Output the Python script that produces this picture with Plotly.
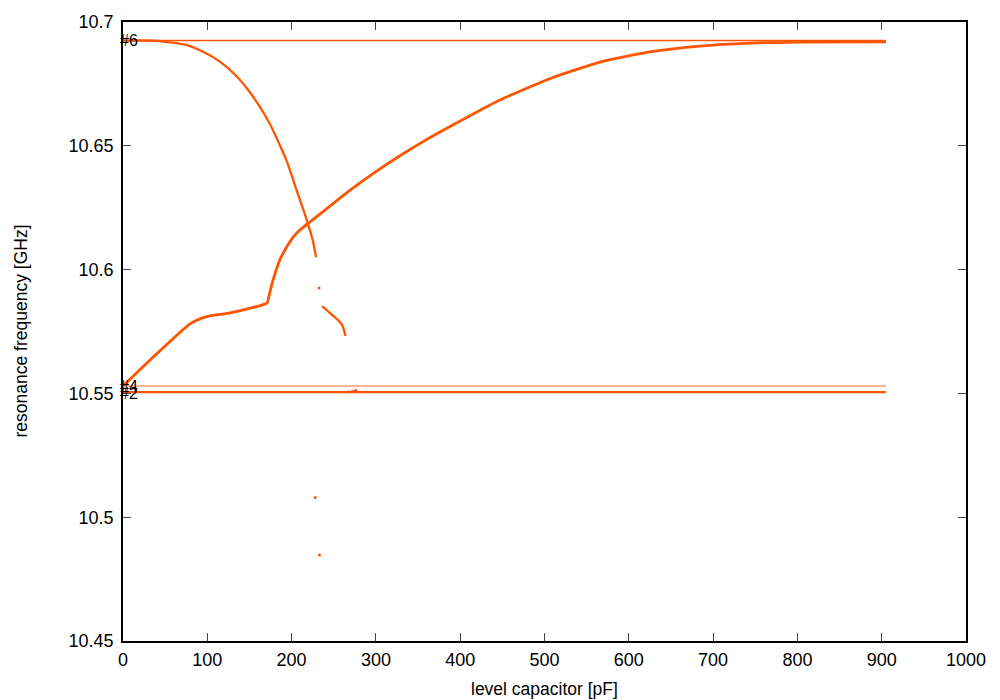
import plotly.graph_objects as go

COLOR = "#FF5500"

# Curve A: mode descending from the top level
a_x = [0, 40, 76, 95, 115, 135, 154, 174, 194, 206, 218, 225, 229]
a_y = [10.6925, 10.6924, 10.6907, 10.688, 10.684, 10.678, 10.670, 10.659, 10.644, 10.632, 10.620, 10.612, 10.605]

# Curve A continuation after the jump
a2_x = [236, 245, 255, 260, 264]
a2_y = [10.5853, 10.5826, 10.5796, 10.5776, 10.5732]

# Curve B: mode ascending from the lower level
b_x = [0, 40, 79, 92, 103, 127, 150, 171, 173, 177, 186, 194, 202, 210, 234, 269, 300, 329, 360, 388, 447, 507,
       566, 625, 684, 744, 803, 905]
b_y = [10.553, 10.566, 10.578, 10.5802, 10.5813, 10.5825, 10.5843, 10.5865, 10.589, 10.5946, 10.6039, 10.609, 10.6132,
       10.616, 10.6225, 10.632, 10.6396, 10.6461, 10.6525, 10.6578, 10.6685, 10.6772, 10.6838, 10.6879, 10.6903,
       10.6915, 10.6919, 10.692]

# Isolated points
p_x = [232.5, 228, 233, 268, 272, 276]
p_y = [10.5926, 10.508, 10.4847, 10.5507, 10.5508, 10.5513]

# Flat modes
flat_x = [0, 905]
flat6_y = 10.6925
flat4_y = 10.553
flat2_y = 10.5505

x_ticks = [0, 100, 200, 300, 400, 500, 600, 700, 800, 900, 1000]
y_ticks = [10.45, 10.5, 10.55, 10.6, 10.65, 10.7]
y_tick_text = ["10.45", "10.5", "10.55", "10.6", "10.65", "10.7"]

fig = go.Figure()
fig.add_trace(go.Scatter(x=flat_x, y=[flat6_y] * 2, mode="lines", line=dict(color=COLOR, width=1.6)))
fig.add_trace(go.Scatter(x=flat_x, y=[flat4_y] * 2, mode="lines", line=dict(color=COLOR, width=1.1), opacity=0.85))
fig.add_trace(go.Scatter(x=flat_x, y=[flat2_y] * 2, mode="lines", line=dict(color=COLOR, width=2.2)))
fig.add_trace(go.Scatter(x=a_x, y=a_y, mode="lines", line=dict(color=COLOR, width=2.3, shape="spline", smoothing=0.6)))
fig.add_trace(go.Scatter(x=a2_x, y=a2_y, mode="lines", line=dict(color=COLOR, width=2.3, shape="spline", smoothing=0.6)))
fig.add_trace(go.Scatter(x=b_x, y=b_y, mode="lines", line=dict(color=COLOR, width=2.8, shape="spline", smoothing=0.5)))
fig.add_trace(go.Scatter(x=p_x, y=p_y, mode="markers", marker=dict(color=COLOR, size=3)))

for txt, yv in [("#6", flat6_y), ("#4", flat4_y - 0.0003), ("#2", flat2_y - 0.0006)]:
    fig.add_annotation(x=0, y=yv, text=txt, showarrow=False, xanchor="left", yanchor="middle",
                       xshift=-5, font=dict(color="black", size=16))

# Axis titles placed as annotations
fig.add_annotation(x=0.5, y=0, xref="paper", yref="paper", text="level capacitor [pF]", showarrow=False,
                   xanchor="center", yanchor="middle", yshift=-48, font=dict(size=17.5, color="black"))
fig.add_annotation(x=0, y=0.5, xref="paper", yref="paper", text="resonance frequency [GHz]", showarrow=False,
                   xanchor="center", yanchor="middle", xshift=-103, textangle=-90, font=dict(size=17.5, color="black"))

fig.update_layout(
    width=1000, height=700,
    margin=dict(l=115, r=42, t=14, b=67),
    paper_bgcolor="white", plot_bgcolor="white",
    showlegend=False,
    font=dict(family="Liberation Sans, Arial, sans-serif", size=18, color="black"),
)
fig.update_xaxes(range=[0, 1000], tickvals=x_ticks, ticks="inside", ticklen=8, tickwidth=1.2, automargin=False,
                 showline=True, linecolor="black", linewidth=1.6, mirror="ticks", showgrid=False, zeroline=False,
                 tickfont=dict(size=18), ticklabelstandoff=2)
fig.update_yaxes(range=[10.45, 10.7], tickvals=y_ticks, ticktext=y_tick_text, ticks="inside", ticklen=8, tickwidth=1.2,
                 automargin=False, ticklabelstandoff=4,
                 showline=True, linecolor="black", linewidth=1.6, mirror="ticks", showgrid=False, zeroline=False,
                 tickfont=dict(size=18))

fig.write_html("out.html")
